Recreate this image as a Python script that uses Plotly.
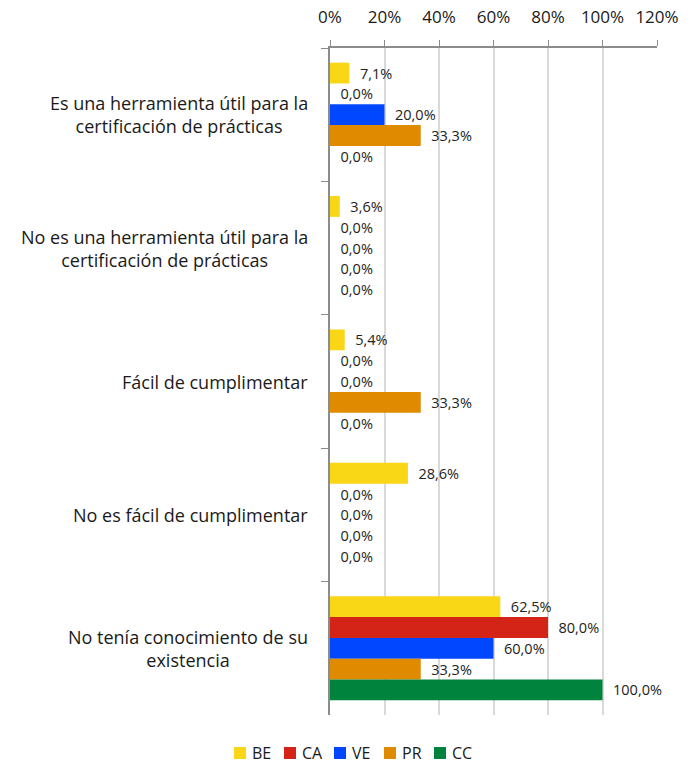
import plotly.graph_objects as go

categories = [
    "Es una herramienta útil para la<br>certificación de prácticas",
    "No es una herramienta útil para la<br>certificación de prácticas",
    "Fácil de cumplimentar",
    "No es fácil de cumplimentar",
    "No tenía conocimiento de su<br>existencia",
]
series_names = ["BE", "CA", "VE", "PR", "CC"]
be = [7.1, 3.6, 5.4, 28.6, 62.5]
ca = [0.0, 0.0, 0.0, 0.0, 80.0]
ve = [20.0, 0.0, 0.0, 0.0, 60.0]
pr = [33.3, 0.0, 33.3, 0.0, 33.3]
cc = [0.0, 0.0, 0.0, 0.0, 100.0]
series_values = [be, ca, ve, pr, cc]
colors = ["#F9D616", "#D42418", "#0047FF", "#E08A00", "#00843D"]

FONT = "Open Sans"
W, H = 694, 764
M_L, M_R, M_T, M_B = 330, 37, 48, 49
PLOT_W = W - M_L - M_R
PLOT_H = H - M_T - M_B


def px_to_paper(px, py):
    """Convert page pixels to paper coordinates of the plot area."""
    return (px - M_L) / PLOT_W, (H - M_B - py) / PLOT_H


fig = go.Figure()
for name, vals, col in zip(series_names, series_values, colors):
    fig.add_trace(go.Bar(
        y=categories,
        x=[v / 100 for v in vals],
        name=name,
        orientation="h",
        marker=dict(color=col, line=dict(width=0)),
        text=["  " + f"{v:.1f}%".replace(".", ",") for v in vals],
        textposition="outside",
        constraintext="none",
        cliponaxis=False,
        textfont=dict(family=FONT, size=14.5, color="#222222"),
        showlegend=False,
    ))

# category labels, centred line by line, right-aligned beside the axis
for i, cat in enumerate(categories):
    fig.add_annotation(
        x=-0.06, xref="paper", xanchor="right",
        y=i, yref="y", yanchor="middle",
        text=cat, showarrow=False, align="center",
        font=dict(family=FONT, size=18, color="#1a1a1a"),
    )

# compact legend row below the chart: square swatch + series name
LEG_X0, LEG_STEP, LEG_Y, SW = 234, 50, 753, 12
for k, (name, col) in enumerate(zip(series_names, colors)):
    sx = LEG_X0 + k * LEG_STEP
    x0, y0 = px_to_paper(sx, LEG_Y + SW / 2)
    x1, y1 = px_to_paper(sx + SW, LEG_Y - SW / 2)
    fig.add_shape(type="rect", xref="paper", yref="paper",
                  x0=x0, y0=y0, x1=x1, y1=y1,
                  fillcolor=col, line=dict(width=0))
    tx, ty = px_to_paper(sx + SW + 4, LEG_Y)
    fig.add_annotation(x=tx, y=ty, xref="paper", yref="paper",
                       xanchor="left", yanchor="middle", showarrow=False,
                       text=name, font=dict(family=FONT, size=16, color="#1a1a1a"))

fig.update_layout(
    width=W, height=H,
    margin=dict(l=M_L, r=M_R, t=M_T, b=M_B, autoexpand=False),
    paper_bgcolor="white", plot_bgcolor="white",
    barmode="group", bargap=0.22, bargroupgap=0,
    showlegend=False,
    xaxis=dict(
        side="top", range=[0, 1.2], dtick=0.2, tickformat=".0%",
        showgrid=True, gridcolor="#d9d9d9", gridwidth=1.5,
        showline=True, linecolor="#8c8c8c", linewidth=1.5,
        ticks="outside", ticklen=6, tickcolor="#8c8c8c",
        ticklabelstandoff=10,
        tickfont=dict(family=FONT, size=17, color="#1a1a1a"),
        zeroline=False,
    ),
    yaxis=dict(
        type="category",
        autorange="reversed", showticklabels=False,
        showline=True, linecolor="#8c8c8c", linewidth=1.5,
        ticks="outside", tickson="boundaries", ticklen=7, tickcolor="#8c8c8c",
        showgrid=False,
    ),
)

fig.write_html("out.html")
